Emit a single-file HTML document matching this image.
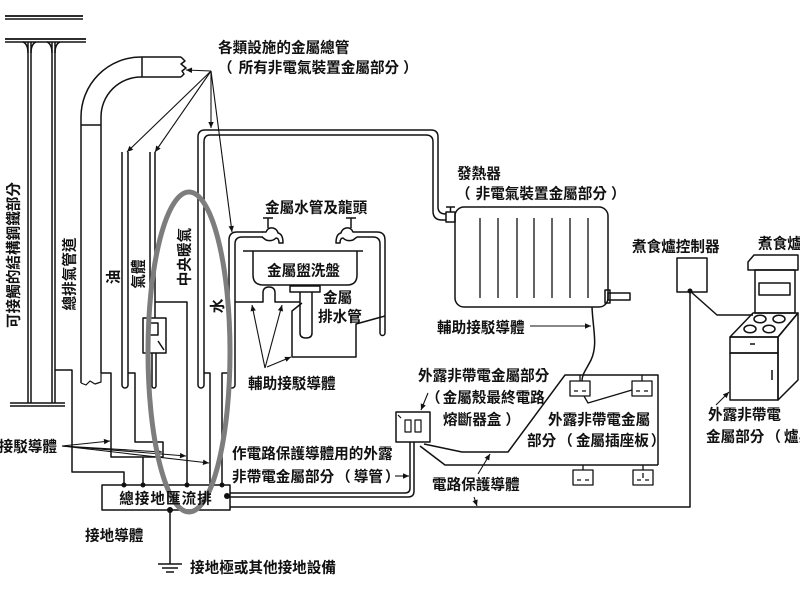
<!DOCTYPE html>
<html><head><meta charset="utf-8">
<style>
html,body{margin:0;padding:0;background:#fff;width:800px;height:600px;overflow:hidden}
svg{display:block}
text{font-family:"Liberation Sans","Noto Sans CJK TC","Noto Sans CJK SC",sans-serif;font-size:14.6px;font-weight:bold;fill:#111}
</style></head>
<body>
<svg width="800" height="600" viewBox="0 0 800 600" xmlns="http://www.w3.org/2000/svg">
<defs>
<marker id="a" viewBox="0 0 10 10" refX="10" refY="5" markerUnits="userSpaceOnUse" markerWidth="7" markerHeight="6" orient="auto"><path d="M0,0.5 L10,5 L0,9.5 z" fill="#111"/></marker>
</defs>
<rect width="800" height="600" fill="#fff"/>
<g fill="none" stroke="#111" stroke-width="1.5" stroke-linejoin="round">
<!-- structural steel -->
<line x1="5" y1="16" x2="83" y2="16" stroke-width="1.8"/><line x1="5" y1="19" x2="83" y2="19"/>
<line x1="5" y1="39" x2="86" y2="39" stroke-width="1.8"/><line x1="5" y1="42" x2="86" y2="42"/>
<line x1="28" y1="42" x2="28" y2="403"/><line x1="31" y1="42" x2="31" y2="403"/>
<line x1="52" y1="42" x2="52" y2="403"/><line x1="55" y1="42" x2="55" y2="403"/>
<path d="M23,42 Q28,44 28,53 M36,42 Q31,44 31,53 M47,42 Q52,44 52,53 M60,42 Q55,44 55,53"/>
<line x1="10" y1="403" x2="65" y2="403"/><line x1="10" y1="406" x2="65" y2="406"/>
<!-- exhaust pipe -->
<path d="M81,383 L81,117 A60,60 0 0 1 141,57 L181,57"/>
<path d="M101,373 L101,117 A40,40 0 0 1 141,77 L181,77"/>
<line x1="142" y1="57" x2="142" y2="77"/><line x1="81" y1="125" x2="101" y2="125"/>
<path d="M181,57 L185,61 L181,64 L186,68 L182,71 L184,74 L181,77"/>
<path d="M81,383 L86,385 L90,381 L95,384 L101,382 L101,373" stroke-width="1.2"/>
<!-- oil pipe -->
<path d="M122,152 L122,385 A3,3 0 0 0 128,385 L128,152"/>
<!-- gas pipe + meter -->
<line x1="150" y1="152" x2="150" y2="318"/><line x1="155" y1="152" x2="155" y2="318"/>
<rect x="143" y="318" width="23" height="35"/>
<rect x="148" y="323" width="10" height="12"/>
<line x1="158" y1="341" x2="164" y2="350"/>
<path d="M152,353 L152,386 A2,2 0 0 0 156,386 L156,353"/>
<!-- central heating pipe frame -->
<path d="M198,385 L198,137 Q198,130 205,130 L431,130 Q438,130 438,137 L438,207 Q438,214 446,214"/>
<path d="M204,385 L204,142 Q204,135 210,135 L426,135 Q433,135 433,142 L433,211 Q433,220 442,220 L446,220"/>
<path d="M198,385 A3,3 0 0 0 204,385"/>
<!-- radiator valve -->
<rect x="446" y="212" width="9" height="10"/>
<line x1="446" y1="207" x2="455" y2="207"/><line x1="450.5" y1="207" x2="450.5" y2="212"/>
<!-- water pipe left -->
<path d="M229,385 L229,240 Q229,232 237,232 L263,232"/>
<path d="M235,385 L235,244 Q235,237 242,237 L263,237"/>
<path d="M229,385 A3,3 0 0 0 235,385"/>
<!-- left faucet -->
<path d="M262,232 L266,232 Q268,227 273,228 Q277,229 278,233 Q283,234 283,243 L279,243 Q279,238 276,238 Q272,242 266,240 L262,237"/>
<line x1="263" y1="218" x2="273" y2="218"/><line x1="268" y1="218" x2="268" y2="228"/>
<!-- right faucet -->
<path d="M357,232 L353,232 Q351,227 346,228 Q342,229 341,233 Q336,234 336,243 L340,243 Q340,238 343,238 Q347,242 353,240 L357,237"/>
<line x1="346" y1="218" x2="356" y2="218"/><line x1="351" y1="218" x2="351" y2="228"/>
<path d="M357,232 L377,232 Q385,232 385,240 L385,333 A2.5,2.5 0 0 1 380,333 L380,244 Q380,237 373,237 L357,237"/>
<!-- sink -->
<line x1="243" y1="251" x2="363" y2="251"/>
<path d="M253,251 L253,275 Q253,285 263,285 L347,285 Q357,285 357,275 L357,251"/>
<rect x="290" y="286" width="30" height="6"/>
<path d="M300,292 L300,333 Q300,338 306,338 Q312,338 312,333 L312,292"/>
<path d="M235,302 L263,302 L263,293 Q263,287 269,287 Q275,287 275,293 L275,302 L300,302"/>
<path d="M302,303 L292,311 L292,357 L356,357 L356,324 L385,316"/>
<!-- radiator -->
<rect x="455" y="207" width="153" height="100" rx="9"/>
<g stroke-width="1.3">
<line x1="480" y1="218" x2="480" y2="298"/><line x1="498" y1="218" x2="498" y2="298"/>
<line x1="517" y1="218" x2="517" y2="298"/><line x1="534" y1="218" x2="534" y2="298"/>
<line x1="552" y1="218" x2="552" y2="298"/><line x1="570" y1="218" x2="570" y2="298"/>
<line x1="588" y1="218" x2="588" y2="298"/>
</g>
<rect x="608" y="293" width="22" height="7"/>
<rect x="605" y="290" width="5" height="13"/>
<path d="M592,307 C593,330 598,345 591,360 C586,370 582,374 582,381"/>
<!-- bonding wires to bus bar -->
<path d="M55,370 L72,370 L72,472 L124,472 L124,485"/>
<path d="M101,373 L111,373 L111,457 L143,457 L143,485"/>
<path d="M128,373 L135,373 L135,442 L163,442 L163,457 L143,457"/>
<path d="M155,302 L187,302 L187,485"/>
<path d="M204,373 L210,373 L210,485"/>
<path d="M229,373 L222,373 L222,485"/>
<!-- bus bar -->
<rect x="102" y="485" width="128" height="25"/>
<line x1="170" y1="510" x2="170" y2="564"/>
<line x1="158" y1="564" x2="182" y2="564"/><line x1="162" y1="568" x2="178" y2="568"/><line x1="166" y1="572" x2="174" y2="572"/>
<!-- conduit -->
<path d="M410,442 L410,488 Q410,493 405,493 L230,493"/>
<path d="M414,442 L414,491 Q414,497 408,497 L230,497"/>
<path d="M230,507 L690,507 L690,291"/>
<!-- fuse box -->
<rect x="396" y="412" width="34" height="30"/>
<rect x="405" y="420" width="6" height="12" stroke-width="1.2"/>
<rect x="415" y="420" width="6" height="12" stroke-width="1.2"/>
<line x1="398" y1="415" x2="401" y2="418" stroke-width="1.2"/>
<!-- circuit protective conductors -->
<path d="M424,444 L462,452 L508,452 L565,375 L658,375 L658,465"/>
<path d="M420,446 L445,465 L658,465"/>
<!-- sockets -->
<g stroke-width="1.3">
<line x1="580" y1="375" x2="580" y2="381"/><rect x="570" y="381" width="20" height="15"/>
<path d="M574,391 L578,391 M582,391 L586,391"/>
<line x1="642" y1="375" x2="642" y2="381"/><rect x="632" y="381" width="20" height="15"/>
<path d="M636,391 L640,391 M644,391 L648,391"/>
<line x1="583" y1="465" x2="583" y2="470"/><rect x="573" y="470" width="20" height="15"/>
<path d="M577,480 L581,480 M585,480 L589,480"/>
<line x1="643" y1="465" x2="643" y2="470"/><rect x="633" y="470" width="20" height="15"/>
<path d="M637,480 L641,480 M645,480 L649,480 M643,473 L643,478"/>
<path d="M584,396 L588,403 L632,390"/>
</g>
<!-- stove controller -->
<rect x="677" y="258" width="30" height="34"/>
<path d="M690,291 L717,315 L753,315"/>
<!-- stove -->
<polygon points="748,262 754,255 798,255 798,270 748,270"/>
<rect x="755" y="270" width="40" height="43"/>
<rect x="759" y="283" width="31" height="12"/>
<polygon points="730,337 753,313 798,313 778,337"/>
<ellipse cx="760" cy="319" rx="6" ry="3.8"/><ellipse cx="779" cy="319" rx="6" ry="3.8"/>
<ellipse cx="750" cy="329" rx="6" ry="3.8"/><ellipse cx="769" cy="329" rx="6" ry="3.8"/>
<rect x="730" y="337" width="48" height="16"/>
<line x1="750" y1="344" x2="755" y2="344"/>
<rect x="730" y="353" width="48" height="47"/>
<line x1="772" y1="370" x2="772" y2="380"/>
<polygon points="778,337 798,313 798,380 778,400"/>
</g>
<!-- dots -->
<g fill="#111">
<circle cx="124" cy="485" r="2.5"/><circle cx="143" cy="485" r="2.5"/>
<circle cx="187" cy="485" r="2.5"/><circle cx="222" cy="485" r="2.5"/>
<circle cx="227" cy="496" r="3"/><circle cx="170" cy="510" r="3"/>
<circle cx="690" cy="291" r="2.5"/>
</g>
<!-- arrows -->
<g fill="none" stroke="#111" stroke-width="1.1" marker-end="url(#a)">
<line x1="211" y1="71" x2="186" y2="70"/>
<line x1="211" y1="71" x2="127" y2="152"/>
<line x1="211" y1="71" x2="155" y2="152"/>
<line x1="211" y1="71" x2="211" y2="128"/>
<line x1="211" y1="71" x2="232" y2="232"/>
<line x1="62" y1="446" x2="110" y2="441"/>
<line x1="62" y1="446" x2="162" y2="452"/>
<line x1="62" y1="446" x2="186" y2="456"/>
<line x1="62" y1="446" x2="209" y2="463"/>
<line x1="265" y1="368" x2="252" y2="305"/>
<line x1="265" y1="368" x2="282" y2="305"/>
<line x1="267" y1="367" x2="291" y2="357"/>
<line x1="530" y1="326" x2="591" y2="326"/>
<line x1="428" y1="393" x2="421" y2="410"/>
<line x1="395" y1="476" x2="409" y2="476"/>
<line x1="478" y1="474" x2="490" y2="454"/>
<line x1="474" y1="497" x2="477" y2="506"/>
<line x1="716" y1="405" x2="729" y2="392"/>
</g>
<!-- gray ellipse -->
<ellipse cx="189" cy="352" rx="41" ry="160" fill="none" stroke="#7d7d7d" stroke-width="5"/>
<!-- labels -->
<text x="218" y="52.5">各類設施的金屬總管</text>
<text x="218" y="72.5">（<tspan dx="6">所有非電氣裝置金屬部分</tspan><tspan dx="4">）</tspan></text>
<text x="456" y="198.5">（<tspan dx="5">非電氣裝置金屬部分</tspan><tspan dx="4">）</tspan></text>
<text x="265" y="212.5">金屬水管及龍頭</text>
<text x="457" y="178.5">發熱器</text>
<text x="632" y="251.5">煮食爐控制器</text>
<text x="758" y="248.5">煮食爐</text>
<text x="267" y="275.5">金屬盥洗盤</text>
<text x="323" y="302.5">金屬</text>
<text x="318" y="321.5">排水管</text>
<text x="248" y="388.5">輔助接駁導體</text>
<text x="437" y="332.5">輔助接駁導體</text>
<text x="418" y="380.5">外露非帶電金屬部分</text>
<text x="426" y="402.5">（<tspan dx="2">金屬殼最終電路</tspan></text>
<text x="443" y="424.5">熔斷器盒<tspan dx="4">）</tspan></text>
<text x="548" y="424.5">外露非帶電金屬</text>
<text x="527" y="445.5">部分<tspan dx="2">（</tspan><tspan dx="3">金屬插座板</tspan><tspan dx="2">）</tspan></text>
<text x="232" y="458.5">作電路保護導體用的外露</text>
<text x="232" y="481.5">非帶電金屬部分<tspan dx="2">（</tspan><tspan dx="3">導管</tspan><tspan dx="2">）</tspan></text>
<text x="432" y="489.5">電路保護導體</text>
<text x="708" y="419.5">外露非帶電</text>
<text x="706" y="441.5">金屬部分<tspan dx="2">（</tspan><tspan dx="3">爐身</tspan><tspan dx="2">）</tspan></text>
<text x="85" y="540.5">接地導體</text>
<text x="190" y="572.5">接地極或其他接地設備</text>
<text x="166" y="503.5" text-anchor="middle" letter-spacing="1">總接地匯流排</text>
<text x="57" y="451.5" text-anchor="end">輔助接駁導體</text>
<text transform="translate(18.5,255) rotate(-90)" text-anchor="middle">可接觸的結構鋼鐵部分</text>
<text transform="translate(74.5,274) rotate(-90)" text-anchor="middle">總排氣管道</text>
<text transform="translate(118.5,277) rotate(-90)" text-anchor="middle">油</text>
<text transform="translate(143.5,274) rotate(-90)" text-anchor="middle">氣體</text>
<text transform="translate(189.5,257) rotate(-90)" text-anchor="middle">中央暖氣</text>
<text transform="translate(222.5,306) rotate(-90)" text-anchor="middle">水</text>
</svg>
</body></html>
